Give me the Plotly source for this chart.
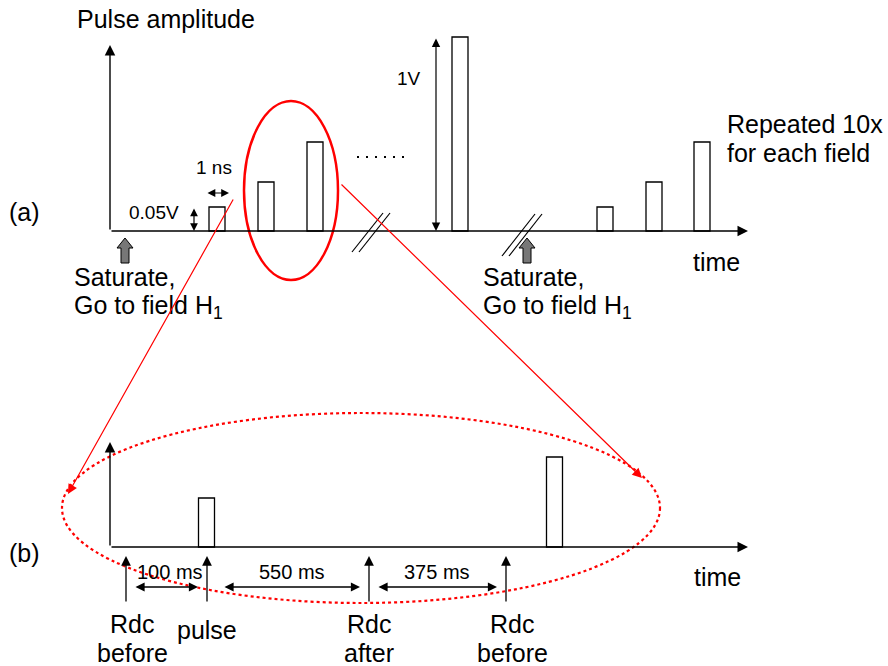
import plotly.graph_objects as go

# ---------------- data ----------------
# panel (a) pulses: centre time position and amplitude (pixels of schematic)
pulse_a_t = [217, 266, 315, 460, 605, 654, 702]
pulse_a_amp = [24, 49, 89, 194, 24, 49, 89]
# panel (b) pulses
pulse_b_t = [206.5, 554.5]
pulse_b_amp = [49, 90]
base_a = 231
base_b = 547
pulse_width = 16

# panel (b) measurement markers
marker_b_t = [126, 207, 369, 506]
interval_labels = ["100 ms", "550 ms", "375 ms"]
interval_from = [134, 223, 377]
interval_to = [198, 360, 497]

FONT = "Liberation Sans, Arial, sans-serif"
BIG = 25
SMALL = 19
PAD = 3

fig = go.Figure()

fig.add_trace(go.Bar(x=pulse_a_t, y=[-a for a in pulse_a_amp], base=base_a,
                     width=pulse_width, marker=dict(color="white", line=dict(color="black", width=1.3)),
                     hoverinfo="skip", showlegend=False))
fig.add_trace(go.Bar(x=pulse_b_t, y=[-a for a in pulse_b_amp], base=base_b,
                     width=pulse_width, marker=dict(color="white", line=dict(color="black", width=1.3)),
                     hoverinfo="skip", showlegend=False))

ann = []
shapes = []


def arrow(x0, y0, x1, y1, color="black", width=1.4, both=False, head=2, size=1.5):
    d = dict(x=x1, y=y1, ax=x0, ay=y0, xref="x", yref="y", axref="x", ayref="y",
             text="", showarrow=True, arrowhead=head, arrowsize=size, arrowwidth=width,
             arrowcolor=color, standoff=0, startstandoff=0)
    if both:
        d["arrowside"] = "end+start"
        d["startarrowhead"] = head
        d["startarrowsize"] = size
    ann.append(d)


def text(x, y, s, size=BIG, anchor="left"):
    if anchor == "left":
        x = x - PAD
    ann.append(dict(x=x, y=y, xref="x", yref="y", text=s, showarrow=False,
                    xanchor=anchor, yanchor="middle", font=dict(family=FONT, size=size, color="black")))


def line(x0, y0, x1, y1, color="black", width=1.2, dash=None):
    shapes.append(dict(type="line", x0=x0, y0=y0, x1=x1, y1=y1, xref="x", yref="y",
                       line=dict(color=color, width=width, dash=dash)))


def block_arrow(xc, tip, bottom):
    p = (f"M {xc} {tip} L {xc+8} {tip+10} L {xc+4} {tip+10} L {xc+4} {bottom} "
         f"L {xc-4} {bottom} L {xc-4} {tip+10} L {xc-8} {tip+10} Z")
    shapes.append(dict(type="path", path=p, xref="x", yref="y",
                       fillcolor="#777777", line=dict(color="black", width=1)))

# ---- panel (a) ----
arrow(110, base_a, 110, 45)
arrow(110, base_a, 748, base_a)
text(78, 19, "Pulse amplitude")
text(10, 212, "(a)")
arrow(194, 207, 194, 231, both=True, width=1.2, size=1.3)
text(130, 212, "0.05V", SMALL)
arrow(206, 193, 229, 193, both=True, width=1.2, size=1.3)
text(197, 167, "1 ns", SMALL)
arrow(436, 37, 436, base_a, both=True, width=1.2, size=1.4)
text(398, 78, "1V", SMALL)
# ellipsis dots
line(357, 157, 404, 157, width=2, dash="2px,7px")
# break marks
line(352, 252, 383, 213); line(359, 252, 390, 213)
line(502, 256, 535, 214); line(509, 256, 542, 214)
block_arrow(125, 238, 263)
block_arrow(527, 238, 263)
text(75, 277, "Saturate,")
text(75, 307, "Go to field H<sub>1</sub>")
text(484, 277, "Saturate,")
text(484, 307, "Go to field H<sub>1</sub>")
text(694, 262, "time")
text(728, 124, "Repeated 10x")
text(728, 153, "for each field")

# zoom ellipse and pointer lines
shapes.append(dict(type="circle", x0=244, x1=338, y0=101, y1=280, xref="x", yref="y",
                   line=dict(color="red", width=2.5)))
arrow(234, 198, 68, 494, color="red", width=1.2, size=1.6)
arrow(340, 183, 642, 478, color="red", width=1.2, size=1.6)
shapes.append(dict(type="circle", x0=62, x1=660, y0=413, y1=603, xref="x", yref="y",
                   line=dict(color="red", width=2.2, dash="dot")))

# ---- panel (b) ----
arrow(110, base_b, 110, 442)
arrow(110, base_b, 748, base_b)
text(10, 553, "(b)")
for t in marker_b_t:
    arrow(t, 603, t, 556, width=1.3)
for lab, a, b in zip(interval_labels, interval_from, interval_to):
    arrow(a, 587, b, 587, both=True, width=1.3, size=1.4)
    text((a + b) / 2 + (4 if lab == "100 ms" else 0), 572, lab, 20, anchor="center")
text(132, 624, "Rdc", anchor="center")
text(132, 653, "before", anchor="center")
text(207, 630, "pulse", anchor="center")
text(369, 624, "Rdc", anchor="center")
text(369, 653, "after", anchor="center")
text(512, 624, "Rdc", anchor="center")
text(512, 653, "before", anchor="center")
text(695, 577, "time")

fig.update_layout(
    width=888, height=666, margin=dict(l=0, r=0, t=0, b=0),
    paper_bgcolor="white", plot_bgcolor="white",
    xaxis=dict(range=[0, 888], visible=False, fixedrange=True),
    yaxis=dict(range=[666, 0], visible=False, fixedrange=True),
    annotations=ann, shapes=shapes, showlegend=False, barmode="overlay",
)
fig.write_html("out.html")
